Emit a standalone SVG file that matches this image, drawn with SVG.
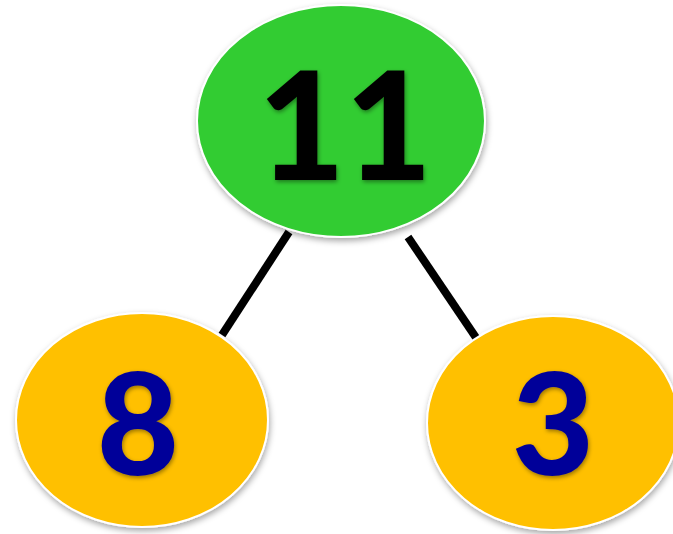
<svg xmlns="http://www.w3.org/2000/svg" width="673" height="534" viewBox="0 0 673 534">
<defs>
<filter id="sh" x="-20%" y="-20%" width="140%" height="140%">
<feDropShadow dx="1" dy="3" stdDeviation="3" flood-color="#000" flood-opacity="0.35"/>
</filter>
<filter id="tsh" x="-20%" y="-20%" width="140%" height="140%">
<feDropShadow dx="1" dy="2" stdDeviation="2" flood-color="#000" flood-opacity="0.4"/>
</filter>
</defs>
<style>
.node{stroke:#fff;stroke-width:2;filter:url(#sh)}
.green{fill:#33cc33}
.gold{fill:#ffc000}
.num{font-family:"Lato","DejaVu Sans Condensed",sans-serif;font-weight:900;text-anchor:middle;filter:url(#tsh)}
.conn{stroke:#000;stroke-width:8;fill:none}
</style>
<rect width="673" height="534" fill="#fff"/>
<g id="connectors">
<line class="conn" x1="289" y1="232" x2="222" y2="335"/>
<line class="conn" x1="408" y1="237" x2="481" y2="345"/>
</g>
<g id="node-11">
<ellipse class="node green" cx="341" cy="121" rx="144" ry="116"/>
<text class="num" x="345" y="180" font-size="150" fill="#000">11</text>
</g>
<g id="node-8">
<ellipse class="node gold" cx="142" cy="420" rx="126" ry="107"/>
<text class="num" x="138" y="475" font-size="142" fill="#000099">8</text>
</g>
<g id="node-3">
<ellipse class="node gold" cx="553" cy="423" rx="126" ry="107"/>
<text class="num" x="553" y="475" font-size="142" fill="#000099">3</text>
</g>
</svg>
